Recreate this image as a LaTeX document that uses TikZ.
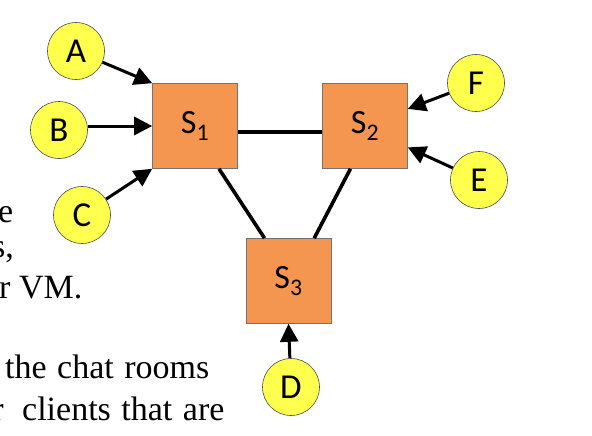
\documentclass[tikz,border=0pt]{standalone}
\usepackage{fontspec}
\setmainfont{Liberation Serif}
\newfontfamily\calfont{Carlito}
\usetikzlibrary{arrows.meta,calc}
\definecolor{boxorange}{RGB}{244,150,80}
\definecolor{clientyellow}{RGB}{255,255,77}
\begin{document}
\begin{tikzpicture}[x=1pt,y=-1pt,
  server/.style={draw=black!55, line width=0.6pt, fill=boxorange, minimum size=85pt, inner sep=0pt, font=\calfont\fontsize{34}{40}\selectfont},
  client/.style={circle, draw=black!70, line width=0.6pt, fill=clientyellow, minimum size=57pt, inner sep=0pt, font=\calfont\fontsize{35}{40}\selectfont},
  link/.style={line width=3.6pt},
  feed/.style={line width=3pt, -{Triangle[length=18pt,width=18pt]}},
  bgtext/.style={anchor=base west, inner sep=0pt, font=\fontsize{34}{40}\selectfont}]
\useasboundingbox (0,0) rectangle (592,436);
\clip (0,0) rectangle (592,436);
% background document text
\node[bgtext] (t1) at (-2,222) {e};
\node[bgtext, anchor=base east] (t2) at (14,257) {s,};
\node[bgtext] (t3) at (-1,298) {r VM.};
\node[bgtext] (t4) at (5,378) {the\hspace{2pt} chat\hspace{2pt} rooms};
\node[bgtext, anchor=base east] (t5) at (4,420) {r};
\node[bgtext] (t6) at (22,420) {clients\hspace{2pt} that\hspace{2pt} are};
% servers
\node[server] (S1) at (195,126) {S\textsubscript{1}};
\node[server] (S2) at (365,126) {S\textsubscript{2}};
\node[server] (S3) at (288.5,281) {S\textsubscript{3}};
% clients
\node[client] (A) at (76,51) {A};
\node[client] (B) at (59,130) {B};
\node[client] (C) at (82,215) {C};
\node[client] (D) at (291,387) {D};
\node[client] (F) at (476,83) {F};
\node[client] (E) at (479,180) {E};
% server links
\coordinate (s1e) at ($(S1.north east)!0.57!(S1.south east)$);
\coordinate (s2w) at ($(S2.north west)!0.57!(S2.south west)$);
\draw[link] (s1e) -- (s2w);
\coordinate (s1b) at ($(S1.south west)!0.78!(S1.south east)$);
\coordinate (s3a) at ($(S3.north west)!0.22!(S3.north east)$);
\draw[link] (s1b) -- (s3a);
\coordinate (s2b) at ($(S2.south west)!0.33!(S2.south east)$);
\coordinate (s3b) at ($(S3.north west)!0.80!(S3.north east)$);
\draw[link] (s2b) -- (s3b);
% client feeds
\draw[feed] (A) -- (S1.north west);
\draw[feed] (B.east |- S1.west) -- (S1.west);
\draw[feed] (C) -- (S1.south west);
\coordinate (s2f) at ($(S2.north east)!0.3!(S2.south east)$);
\coordinate (s2e) at ($(S2.north east)!0.75!(S2.south east)$);
\draw[feed] (F) -- (s2f);
\draw[feed] (E) -- (s2e);
\draw[feed] (D) -- (S3.south);
\end{tikzpicture}
\end{document}
